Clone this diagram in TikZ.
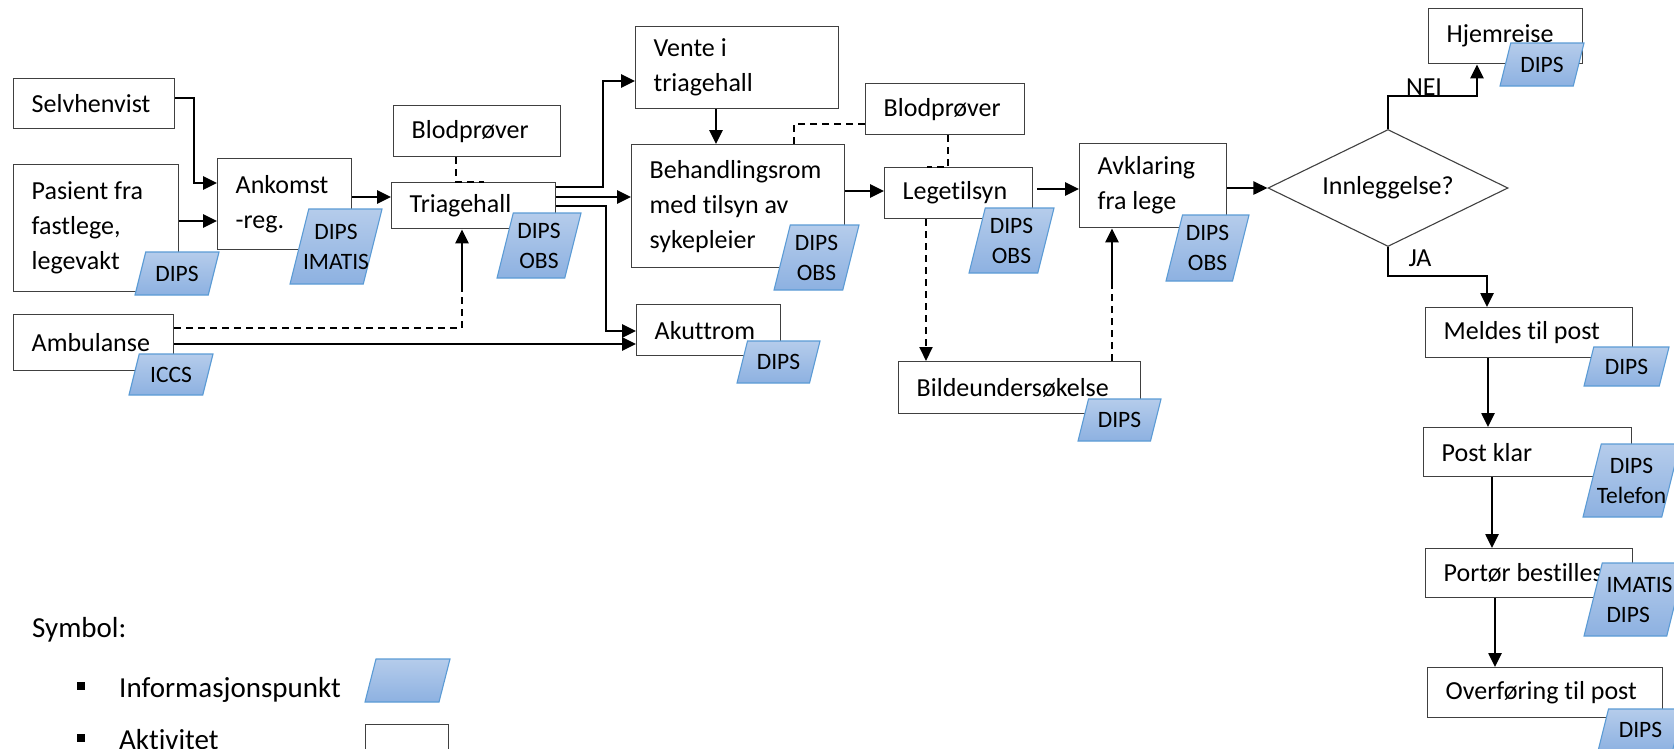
\documentclass[tikz,border=0pt]{standalone}
\usepackage{fontspec}
\setmainfont{Carlito}[Ligatures=NoCommon]
\usetikzlibrary{arrows.meta, shapes.geometric}

\definecolor{kant}{RGB}{64,64,64}
\definecolor{infotopp}{RGB}{181,204,235}
\definecolor{infobunn}{RGB}{141,177,225}
\definecolor{infokant}{RGB}{91,155,213}

\newcommand\boksfont{\fontsize{26}{35}\selectfont}
\newcommand\infofont{\fontsize{23.5}{30}\selectfont}
\newcommand\symbolfont{\fontsize{29}{38}\selectfont}

\tikzset{
  aktivitet/.style={draw=kant, line width=1.4pt, fill=white, anchor=north west,
    inner xsep=18pt, inner ysep=0pt, align=flush left, font=\boksfont},
  pil/.style={line width=2.6pt, -{Triangle[length=14pt,width=13pt]}},
  stiplet/.style={line width=1.9pt, dash pattern=on 7pt off 5pt},
  info/.style={draw=infokant, line width=1.1pt, top color=infotopp, bottom color=infobunn},
  infotekst/.style={font=\infofont, align=center, inner sep=0pt},
  etikett/.style={font=\boksfont, anchor=base, inner sep=0pt},
}

% informasjonspunkt: [opt] name, x, y (top left), width, height, text
\newcommand\infopunkt[7][]{%
  \path[info] (#3,#4+#6) -- (#3+0.25*#6,#4) -- (#3+#5,#4)
    -- (#3+#5-0.25*#6,#4+#6) -- cycle;
  \node[infotekst,#1] (#2) at (#3+#5/2,#4+#6/2) {#7};
}

\begin{document}
\begin{tikzpicture}[x=1pt, y=-1pt]
  \useasboundingbox (0,0) rectangle (1674,748);
  \clip (0,0) rectangle (1674,748);

  % aktiviteter
  \node[aktivitet, text width=125pt, minimum height=50pt] (selv) at (13,78) {Selvhenvist};
  \node[aktivitet, text width=129pt, minimum height=127pt] (pasient) at (13,164) {Pasient fra\\fastlege,\\legevakt};
  \node[aktivitet, text width=124pt, minimum height=56pt] (ambulanse) at (13,314) {Ambulanse};
  \node[aktivitet, text width=98pt, minimum height=91pt] (ankomst) at (217,158) {Ankomst\\-reg.};
  \node[aktivitet, text width=131pt, minimum height=51pt] (blod1) at (393,105) {Blodprøver};
  \node[aktivitet, text width=128pt, minimum height=46pt] (triage) at (391,182) {Triagehall};
  \node[aktivitet, text width=167pt, minimum height=82pt] (vente) at (635,26) {Vente i\\triagehall};
  \node[aktivitet, text width=177pt, minimum height=123pt] (behandling) at (631,144) {Behandlingsrom\\med tilsyn av\\sykepleier};
  \node[aktivitet, text width=108pt, minimum height=51pt] (akuttrom) at (636,304) {Akuttrom};
  \node[aktivitet, text width=123pt, minimum height=51pt] (blod2) at (865,83) {Blodprøver};
  \node[aktivitet, text width=112pt, minimum height=51pt] (lege) at (884,167) {Legetilsyn};
  \node[aktivitet, text width=206pt, minimum height=52pt] (bilde) at (898,361) {Bildeundersøkelse};
  \node[aktivitet, text width=111pt, minimum height=84pt] (avklaring) at (1079,143) {Avklaring\\fra lege};
  \node[draw=kant, line width=1.1pt, fill=white, diamond, aspect=2.05, minimum width=240pt,
    minimum height=117pt, inner sep=0pt, font=\boksfont] (innlegg) at (1388,188) {Innleggelse?};
  \node[aktivitet, text width=118pt, minimum height=55pt] (hjem) at (1428,8) {Hjemreise};
  \node[aktivitet, text width=171pt, minimum height=50pt] (meldes) at (1425,307) {Meldes til post};
  \node[aktivitet, text width=172pt, minimum height=49pt] (postklar) at (1423,427) {Post klar};
  \node[aktivitet, text width=171pt, minimum height=49pt] (portor) at (1425,548) {Portør bestilles};
  \node[aktivitet, text width=199pt, minimum height=50pt] (overforing) at (1427,667) {Overføring til post};

  % piler
  \draw[pil] (selv.east |- 0,98) -| (194,183) -- (ankomst.west |- 0,183);
  \draw[pil] (pasient.east |- 0,221) -- (ankomst.west |- 0,221);
  \draw[pil] (ankomst.east |- 0,197) -- (triage.west |- 0,197);
  \draw[pil] (triage.east |- 0,187) -| (603,81) -- (vente.west |- 0,81);
  \draw[pil] (triage.east |- 0,197) -- (behandling.west |- 0,197);
  \draw[pil] (triage.east |- 0,206) -| (606,331) -- (akuttrom.west |- 0,331);
  \draw[pil] (ambulanse.east |- 0,344) -- (akuttrom.west |- 0,344);
  \coordinate (ambknekk) at (462,285);
  \draw[stiplet] (ambulanse.east |- 0,328) -| (ambknekk);
  \draw[pil] (ambknekk) -- (triage.south -| ambknekk);
  \draw[pil] (vente.south -| 716,0) -- (behandling.north -| 716,0);
  \draw[pil] (behandling.east |- 0,191) -- (lege.west |- 0,191);
  \draw[pil, shorten <=4pt] (lege.east |- 0,189) -- (avklaring.west |- 0,189);
  \draw[stiplet, -{Triangle[length=14pt,width=13pt]}] (lege.south -| 926,0) -- (bilde.north -| 926,0);
  \coordinate (bildeknekk) at (1112,283);
  \draw[stiplet] (bilde.north -| bildeknekk) -- (bildeknekk);
  \draw[pil] (bildeknekk) -- (avklaring.south -| bildeknekk);
  \draw[pil] (avklaring.east |- innlegg.west) -- (innlegg.west);
  \draw[pil] (innlegg.north) |- (1477,96) -- (hjem.south -| 1477,0);
  \draw[pil] (innlegg.south) |- (1487,276) -- (meldes.north -| 1487,0);
  \draw[pil] (meldes.south -| 1488,0) -- (postklar.north -| 1488,0);
  \draw[pil] (postklar.south -| 1492,0) -- (portor.north -| 1492,0);
  \draw[pil] (portor.south -| 1495,0) -- (overforing.north -| 1495,0);

  % blodprøver
  \draw[stiplet] (blod1.south -| 456,0) |- (triage.north -| 484,0);
  \draw[stiplet] (blod2.west |- 0,124) -| (behandling.north -| 794,0);
  \draw[stiplet] (blod2.south -| 948,0) |- (lege.north -| 927,0);

  \node[etikett] (nei) at (1424,95) {NEI};
  \node[etikett] (ja) at (1420,266) {JA};

  % informasjonspunkter
  \infopunkt{pasientinfo}{135}{252}{84}{43}{DIPS}
  \infopunkt{ankomstinfo}{290}{209}{92}{75}{DIPS\\IMATIS}
  \infopunkt{triageinfo}{497}{213}{84}{65}{DIPS\\OBS}
  \infopunkt{ambinfo}{129}{354}{84}{41}{ICCS}
  \infopunkt{behinfo}{774}{225}{85}{65}{DIPS\\OBS}
  \infopunkt{akuttinfo}{737}{341}{83}{42}{DIPS}
  \infopunkt{legeinfo}{969}{208}{85}{65}{DIPS\\OBS}
  \infopunkt{bildeinfo}{1078}{399}{83}{42}{DIPS}
  \infopunkt{avklaringinfo}{1166}{215}{83}{66}{DIPS\\OBS}
  \infopunkt{hjeminfo}{1500}{43}{84}{43}{DIPS}
  \infopunkt{meldesinfo}{1584}{347}{85}{39}{DIPS}
  \infopunkt{postinfo}{1583}{444}{97}{73}{DIPS\\Telefon}
  \infopunkt[align=left, xshift=5pt]{portorinfo}{1584}{563}{101}{73}{IMATIS\\DIPS}
  \infopunkt{overfinfo}{1598}{709}{85}{42}{DIPS}

  % symbolforklaring
  \node[font=\symbolfont, anchor=base west, inner sep=0pt] (symbol) at (32,637) {Symbol:};
  \node[fill, minimum size=8pt, inner sep=0pt] (kule1) at (81,686) {};
  \node[fill, minimum size=8pt, inner sep=0pt] (kule2) at (81,738) {};
  \node[font=\symbolfont, anchor=base west, inner sep=0pt] (infoforklaring) at (119,697) {Informasjonspunkt};
  \node[font=\symbolfont, anchor=base west, inner sep=0pt] (aktforklaring) at (119,749) {Aktivitet};
  \path[info] (365,702) -- (376,659) -- (450,659) -- (439,702) -- cycle;
  \node[aktivitet, text width=47pt, minimum height=43pt] (aktboks) at (365,724) {};
\end{tikzpicture}
\end{document}
